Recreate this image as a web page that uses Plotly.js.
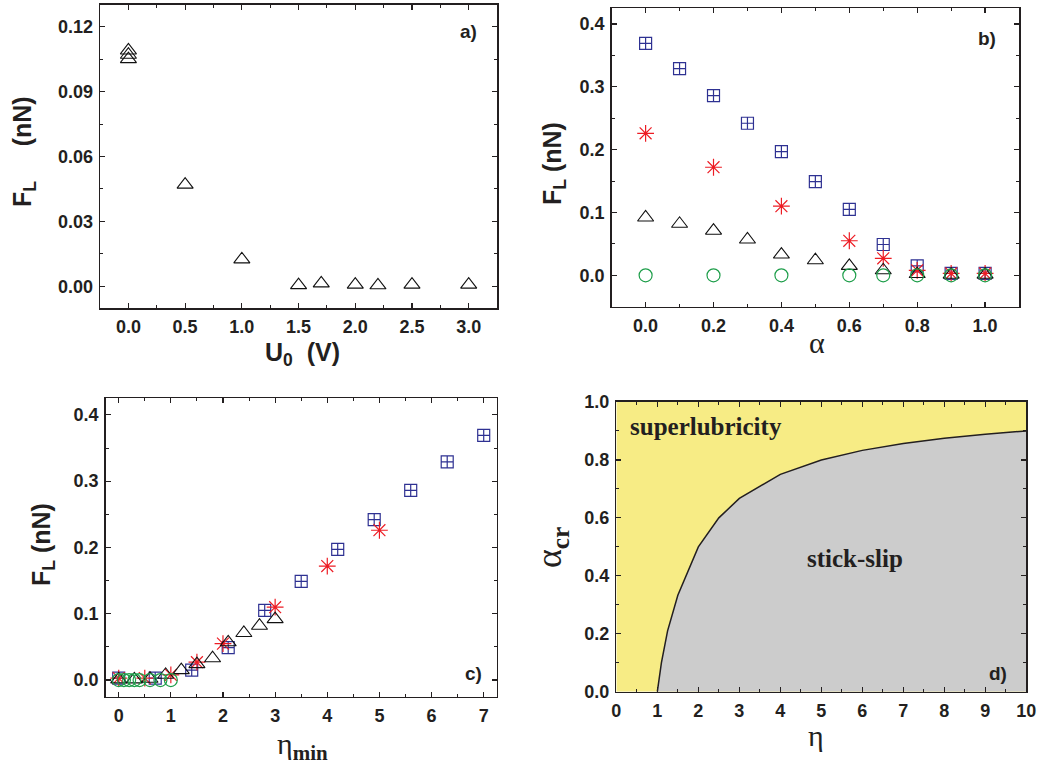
<!DOCTYPE html>
<html>
<head>
<meta charset="utf-8">
<script src="https://cdn.plot.ly/plotly-3.0.1.min.js"></script>
<style>
  html, body { margin: 0; padding: 0; background: #fff; }
  #chart { width: 1039px; height: 767px; }
</style>
</head>
<body>
<div id="chart"></div>
<script>
// (a) lateral force vs. modulation amplitude U0
const U0 = [0, 0, 0, 0.5, 1.0, 1.5, 1.7, 2.0, 2.2, 2.5, 3.0];
const FL_U0 = [0.109, 0.107, 0.105, 0.047, 0.0125, 0.0006, 0.0014, 0.0008, 0.0005, 0.0008, 0.0008];

// (b) lateral force vs. alpha, four series
const alphaSq = [0, 0.1, 0.2, 0.3, 0.4, 0.5, 0.6, 0.7, 0.8, 0.9, 1.0];
const FL_Sq = [0.369, 0.329, 0.286, 0.242, 0.197, 0.149, 0.105, 0.049, 0.015, 0.003, 0.003];
const alphaStar = [0, 0.2, 0.4, 0.6, 0.7, 0.8, 0.9, 1.0];
const FL_Star = [0.226, 0.172, 0.110, 0.055, 0.027, 0.008, 0.003, 0.003];
const alphaTri = [0, 0.1, 0.2, 0.3, 0.4, 0.5, 0.6, 0.7, 0.8, 0.9, 1.0];
const FL_Tri = [0.092, 0.082, 0.071, 0.057, 0.033, 0.024, 0.015, 0.008, 0.002, 0.001, 0.001];
const alphaCirc = [0, 0.2, 0.4, 0.6, 0.7, 0.8, 0.9, 1.0];
const FL_Circ = [0, 0, 0, 0, 0, 0, 0, 0];

// (c) same forces vs. eta_min
const etaMinSq = [7, 6.3, 5.6, 4.9, 4.2, 3.5, 2.8, 2.1, 1.4, 0.7, 0];
const etaMinStar = [5, 4, 3, 2, 1.5, 1, 0.5, 0];
const etaMinTri = [3, 2.7, 2.4, 2.1, 1.8, 1.5, 1.2, 0.9, 0.6, 0.3, 0];
const etaMinCirc = [1, 0.8, 0.6, 0.4, 0.3, 0.2, 0.1, 0];

// (d) phase boundary alpha_cr(eta)
const etaD = [1, 1.1, 1.25, 1.5, 2, 2.5, 3, 4, 5, 6, 7, 8, 9, 10];
const alphaCr = [0, 0.1, 0.21, 0.333, 0.5, 0.6, 0.667, 0.75, 0.8, 0.833, 0.857, 0.875, 0.889, 0.9];

const INK = '#231f20';
const BLUE = '#2e3192';
const RED = '#ed1c24';
const GREEN = '#1e9e4a';
const YELLOW = '#f7ec85';
const GRAY = '#cccccc';

const sansBold = { family: 'Liberation Sans, Arial, sans-serif', size: 18, color: INK, weight: 'bold' };
const titleSans = { family: 'Liberation Sans, Arial, sans-serif', size: 25, color: INK, weight: 'bold' };
const letterFont = { family: 'Liberation Sans, Arial, sans-serif', size: 19, color: INK, weight: 'bold' };
const serif = 'Liberation Serif, Times New Roman, serif';

function triTrace(x, y, xa, ya) {
  return { x, y, xaxis: xa, yaxis: ya, type: 'scatter', mode: 'markers',
    marker: { symbol: 'triangle-up-open', size: 14, color: '#111111', line: { color: '#111111', width: 1.1 } } };
}
function sqTrace(x, y, xa, ya) {
  return { x, y, xaxis: xa, yaxis: ya, type: 'scatter', mode: 'markers',
    marker: { symbol: 'square-cross-open', size: 12, color: BLUE, line: { color: BLUE, width: 1.2 } } };
}
function starTrace(x, y, xa, ya) {
  return { x, y, xaxis: xa, yaxis: ya, type: 'scatter', mode: 'markers',
    marker: { symbol: 'asterisk-open', size: 14, color: RED, line: { color: RED, width: 1.2 } } };
}
function circTrace(x, y, xa, ya) {
  return { x, y, xaxis: xa, yaxis: ya, type: 'scatter', mode: 'markers',
    marker: { symbol: 'circle-open', size: 13, color: GREEN, line: { color: GREEN, width: 1.2 } } };
}

const traces = [
  triTrace(U0, FL_U0, 'x', 'y'),

  sqTrace(alphaSq, FL_Sq, 'x2', 'y2'),
  starTrace(alphaStar, FL_Star, 'x2', 'y2'),
  triTrace(alphaTri, FL_Tri, 'x2', 'y2'),
  circTrace(alphaCirc, FL_Circ, 'x2', 'y2'),

  sqTrace(etaMinSq, FL_Sq, 'x3', 'y3'),
  starTrace(etaMinStar, FL_Star, 'x3', 'y3'),
  triTrace(etaMinTri, FL_Tri, 'x3', 'y3'),
  circTrace(etaMinCirc, FL_Circ, 'x3', 'y3'),

  { x: etaD, y: alphaCr, xaxis: 'x4', yaxis: 'y4', type: 'scatter', mode: 'lines',
    fill: 'tozeroy', fillcolor: GRAY, line: { color: INK, width: 1.5 } }
];

function axis(extra) {
  return Object.assign({
    showline: true, linecolor: INK, linewidth: 1.5, mirror: 'allticks',
    ticks: 'inside', ticklen: 5, tickwidth: 1.2, tickcolor: INK,
    showgrid: false, zeroline: false, tickfont: sansBold, fixedrange: true,
    ticklabelstandoff: 2
  }, extra);
}
function minor(d) {
  return { dtick: d, ticks: 'inside', ticklen: 3, tickwidth: 1, tickcolor: INK, showgrid: false };
}

// text placed by its centre, in page pixels measured from the top-left corner
function note(px, py, text, font, extra) {
  return Object.assign({ xref: 'paper', yref: 'paper', x: px / 1039, y: 1 - py / 767,
    xanchor: 'center', yanchor: 'middle', showarrow: false, text, font }, extra || {});
}

const layout = {
  width: 1039, height: 767,
  margin: { l: 0, r: 0, t: 0, b: 0 },
  paper_bgcolor: '#ffffff', plot_bgcolor: 'rgba(0,0,0,0)',
  showlegend: false,

  xaxis: axis({ domain: [0.0963, 0.4784], range: [-0.25, 3.25], tick0: 0, dtick: 0.5, tickformat: '.1f', minor: minor(0.25), anchor: 'y' }),
  yaxis: axis({ domain: [0.5984, 0.9935], range: [-0.01, 0.13], tick0: 0, dtick: 0.03, tickformat: '.2f', minor: minor(0.015), anchor: 'x' }),

  xaxis2: axis({ domain: [0.5887, 0.9808], range: [-0.1, 1.1], tick0: 0, dtick: 0.2, tickformat: '.1f', minor: minor(0.1), anchor: 'y2' }),
  yaxis2: axis({ domain: [0.6001, 0.9892], range: [-0.05, 0.425], tick0: 0, dtick: 0.1, tickformat: '.1f', minor: minor(0.05), anchor: 'x2' }),

  xaxis3: axis({ domain: [0.1017, 0.4781], range: [-0.25, 7.25], tick0: 0, dtick: 1, minor: minor(0.5), anchor: 'y3' }),
  yaxis3: axis({ domain: [0.0917, 0.4807], range: [-0.025, 0.425], tick0: 0, dtick: 0.1, tickformat: '.1f', minor: minor(0.05), anchor: 'x3' }),

  xaxis4: axis({ domain: [0.5932, 0.9878], range: [0, 10], tick0: 0, dtick: 1, minor: minor(0.5), anchor: 'y4' }),
  yaxis4: axis({ domain: [0.0982, 0.4759], range: [0, 1], tick0: 0, dtick: 0.2, tickformat: '.1f', minor: minor(0.1), anchor: 'x4' }),

  shapes: [
    { type: 'rect', xref: 'x4', yref: 'y4', x0: 0, x1: 10, y0: 0, y1: 1,
      fillcolor: YELLOW, line: { width: 0 }, layer: 'below' }
  ],

  annotations: [
    // axis titles
    note(24, 152, 'F<sub>L</sub>\u00a0\u00a0\u00a0\u00a0\u00a0(nN)', titleSans, { textangle: -90 }),
    note(302, 354, 'U<sub>0</sub>\u00a0\u00a0(V)', titleSans),

    note(554, 164, 'F<sub>L</sub>\u00a0(nN)', titleSans, { textangle: -90 }),
    note(817, 342, '\u03b1', { family: serif, size: 30, color: INK }),

    note(43, 545, 'F<sub>L</sub>\u00a0(nN)', titleSans, { textangle: -90 }),
    note(302, 746, '\u03b7<sub><b>min</b></sub>', { family: serif, size: 30, color: INK }),

    note(551, 548, '\u03b1<sub><b>cr</b></sub>', { family: serif, size: 36, color: INK }, { textangle: -90 }),
    note(816, 735, '\u03b7', { family: serif, size: 30, color: INK }),

    // panel letters
    note(468, 32, 'a)', letterFont),
    note(987, 38, 'b)', letterFont),
    note(473, 673, 'c)', letterFont),
    note(998, 673, 'd)', letterFont),

    // phase labels
    note(628, 426, 'superlubricity', { family: serif, size: 25, color: INK, weight: 'bold' }, { xanchor: 'left' }),
    note(855, 558, 'stick-slip', { family: serif, size: 25, color: INK, weight: 'bold' })
  ]
};

Plotly.newPlot('chart', traces, layout, { staticPlot: true, displayModeBar: false });
</script>
</body>
</html>
